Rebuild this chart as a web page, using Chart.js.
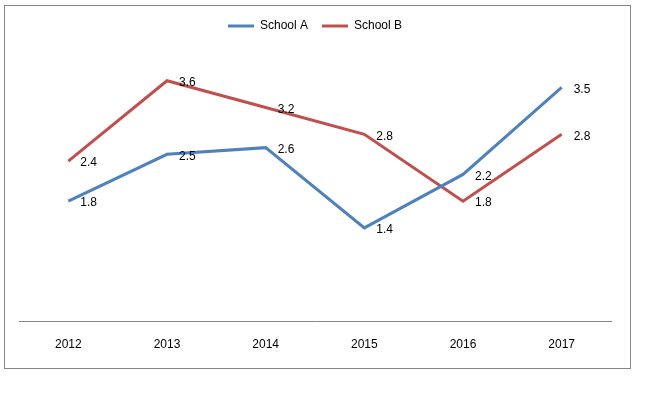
<!DOCTYPE html>
<html>
<head>
<meta charset="utf-8">
<script src="https://cdn.jsdelivr.net/npm/chart.js@4/dist/chart.umd.min.js"></script>
<style>
  html, body { margin: 0; padding: 0; background: #fff; }
  #frame {
    position: absolute;
    left: 4px;
    top: 5px;
    width: 625px;
    height: 362px;
    border: 1px solid #868686;
  }
</style>
</head>
<body>
<div id="frame"><canvas id="chart" width="625" height="362"></canvas></div>
<script>
const years = ['2012', '2013', '2014', '2015', '2016', '2017'];
const schoolA = [1.8, 2.5, 2.6, 1.4, 2.2, 3.5];
const schoolB = [2.4, 3.6, 3.2, 2.8, 1.8, 2.8];

const FONT = '"Liberation Sans", Arial, sans-serif';

// value labels to the right of each point, like the excel chart
const valueLabels = {
  id: 'valueLabels',
  afterDatasetsDraw(chart) {
    const ctx = chart.ctx;
    ctx.save();
    ctx.font = '12px ' + FONT;
    ctx.fillStyle = '#000';
    ctx.textAlign = 'left';
    ctx.textBaseline = 'middle';
    chart.data.datasets.forEach((ds, i) => {
      chart.getDatasetMeta(i).data.forEach((pt, j) => {
        ctx.fillText(ds.data[j].toFixed(1), pt.x + 12, pt.y + 2);
      });
    });
    ctx.restore();
  }
};

// fixed legend height so the plot starts where excel put it
const legendHeight = {
  id: 'legendHeight',
  beforeInit(chart) {
    const fit = chart.legend.fit;
    chart.legend.fit = function () {
      fit.call(this);
      this.height = 48;
    };
  }
};

new Chart(document.getElementById('chart'), {
  type: 'line',
  data: {
    labels: years,
    datasets: [
      {
        label: 'School A',
        data: schoolA,
        borderColor: '#4F81BD',
        backgroundColor: '#4F81BD',
        borderWidth: 3,
        pointRadius: 0,
        tension: 0
      },
      {
        label: 'School B',
        data: schoolB,
        borderColor: '#C0504D',
        backgroundColor: '#C0504D',
        borderWidth: 3,
        pointRadius: 0,
        tension: 0
      }
    ]
  },
  options: {
    responsive: false,
    animation: false,
    layout: {
      padding: { left: 14, right: 19, top: 0, bottom: 8 }
    },
    scales: {
      x: {
        offset: true,
        grid: { display: false },
        border: { display: true, color: '#868686', width: 1 },
        ticks: {
          color: '#000',
          padding: 8,
          font: { family: FONT, size: 12 }
        }
      },
      y: {
        display: false,
        min: 0,
        max: 4
      }
    },
    plugins: {
      legend: {
        position: 'top',
        labels: {
          boxWidth: 26,
          boxHeight: 3,
          padding: 14,
          color: '#000',
          font: { family: FONT, size: 12 },
          generateLabels: chart =>
            Chart.defaults.plugins.legend.labels.generateLabels(chart)
              .map(l => ({ ...l, lineWidth: 0 }))
        }
      },
      tooltip: { enabled: false }
    }
  },
  plugins: [valueLabels, legendHeight]
});
</script>
</body>
</html>
